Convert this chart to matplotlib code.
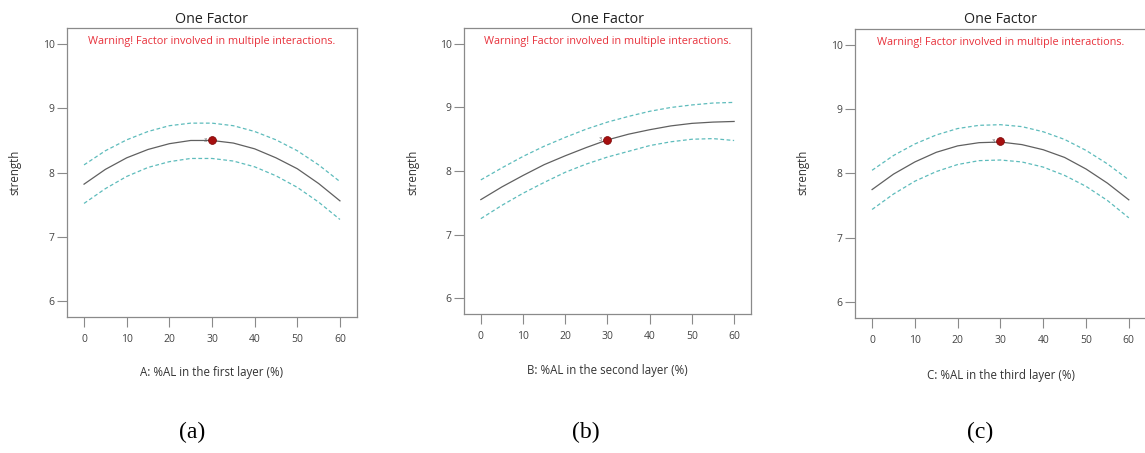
import matplotlib
matplotlib.use("Agg")
import matplotlib.pyplot as plt

# x grid (factor level, %)
x = [0, 5, 10, 15, 20, 25, 30, 35, 40, 45, 50, 55, 60]

# (a) first layer
a_mean = [7.82, 8.05, 8.23, 8.36, 8.45, 8.50, 8.50, 8.46, 8.37, 8.23, 8.06, 7.83, 7.56]
a_up = [8.12, 8.34, 8.51, 8.64, 8.73, 8.77, 8.77, 8.73, 8.64, 8.51, 8.34, 8.12, 7.86]
a_lo = [7.52, 7.75, 7.94, 8.08, 8.17, 8.22, 8.22, 8.18, 8.09, 7.95, 7.77, 7.54, 7.27]

# (b) second layer
b_mean = [7.55, 7.75, 7.93, 8.10, 8.24, 8.37, 8.49, 8.58, 8.65, 8.71, 8.75, 8.77, 8.78]
b_up = [7.86, 8.05, 8.23, 8.39, 8.53, 8.66, 8.77, 8.86, 8.94, 9.00, 9.04, 9.07, 9.08]
b_lo = [7.25, 7.46, 7.65, 7.82, 7.98, 8.11, 8.22, 8.31, 8.40, 8.46, 8.50, 8.51, 8.48]

# (c) third layer
c_mean = [7.75, 7.99, 8.18, 8.33, 8.43, 8.48, 8.49, 8.45, 8.37, 8.25, 8.07, 7.85, 7.59]
c_up = [8.05, 8.28, 8.46, 8.60, 8.70, 8.75, 8.76, 8.73, 8.65, 8.53, 8.36, 8.15, 7.90]
c_lo = [7.44, 7.68, 7.88, 8.03, 8.14, 8.20, 8.21, 8.18, 8.10, 7.97, 7.80, 7.58, 7.31]

design_x = [30, 30, 30]
design_y = [8.50, 8.49, 8.50]

xlabels = ["A: %AL in the first layer (%)",
           "B: %AL in the second layer (%)",
           "C: %AL in the third layer (%)"]
captions = ["(a)", "(b)", "(c)"]
means = [a_mean, b_mean, c_mean]
ups = [a_up, b_up, c_up]
los = [a_lo, b_lo, c_lo]

FRAME = "#8a8a8a"
TEAL = "#5ebcbc"
LINE = "#606060"
RED = "#e8323c"
DOT = "#a50f0f"

plt.rcParams["font.family"] = ["Open Sans", "DejaVu Sans"]

fig = plt.figure(figsize=(11.45, 4.53), dpi=100)
fig.patch.set_facecolor("white")

# [left, bottom, width, height] in figure fractions
boxes = [[0.0585, 0.300, 0.2533, 0.638],
         [0.4052, 0.307, 0.2507, 0.631],
         [0.7467, 0.298, 0.2541, 0.638]]
xlabel_y = [0.177, 0.183, 0.170]
caption_x = [0.168, 0.512, 0.856]
ylabel_x = [0.013, 0.361, 0.701]

for i in range(3):
    ax = fig.add_axes(boxes[i])
    ax.plot(x, ups[i], color=TEAL, lw=0.9, ls=(0, (3, 2)))
    ax.plot(x, los[i], color=TEAL, lw=0.9, ls=(0, (3, 2)))
    ax.plot(x, means[i], color=LINE, lw=0.9)
    ax.scatter([design_x[i]], [design_y[i]], s=32, color=DOT,
               edgecolor="#7a0000", linewidth=0.5, zorder=5)
    ax.text(design_x[i] - 1.2, design_y[i], "3", fontsize=4, color="#555555",
            ha="right", va="center")

    ax.set_xlim(-4, 64)
    ax.set_ylim(5.75, 10.25)
    ax.set_xticks([0, 10, 20, 30, 40, 50, 60])
    ax.set_yticks([6, 7, 8, 9, 10])

    for s in ax.spines.values():
        s.set_color(FRAME)
        s.set_linewidth(0.9)
    ax.tick_params(axis="both", direction="out", length=7, width=0.8,
                   color=FRAME, labelsize=7.5, labelcolor="#444444")
    ax.tick_params(axis="y", pad=2)
    ax.tick_params(axis="x", pad=5)

    ax.set_title("One Factor", fontsize=10.3, color="#222222", pad=4)
    ax.text(0.5, 0.953, "Warning! Factor involved in multiple interactions.",
            transform=ax.transAxes, ha="center", va="center",
            fontsize=7.8, color=RED)

    fig.text(boxes[i][0] + boxes[i][2] / 2, xlabel_y[i], xlabels[i],
             ha="center", va="center", fontsize=8.3, color="#333333")
    fig.text(ylabel_x[i], 0.62, "strength", rotation=90, ha="center",
             va="center", fontsize=8.3, color="#333333")
    fig.text(caption_x[i], 0.045, captions[i], ha="center", va="center",
             fontsize=17, family="Liberation Serif", color="black")

fig.savefig("out.png", dpi=100, facecolor="white")
